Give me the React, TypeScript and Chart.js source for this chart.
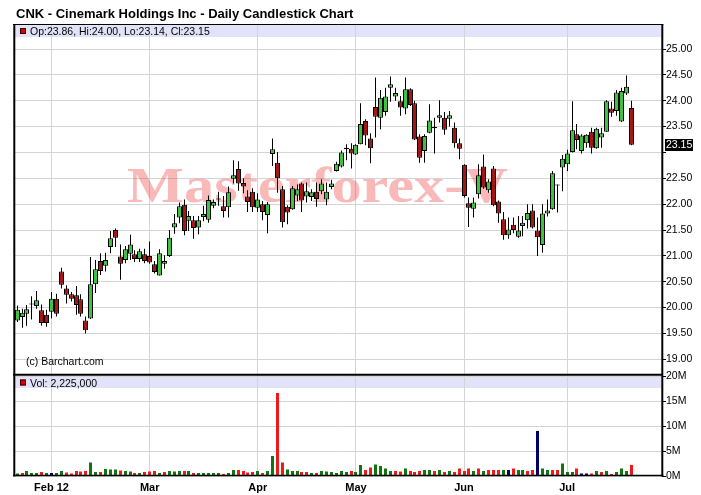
import React, { useEffect, useRef } from "react";
import { Chart, registerables } from "chart.js";

Chart.register(...registerables);

const TITLE = "CNK - Cinemark Holdings Inc - Daily Candlestick Chart";
const COPYRIGHT = "(c) Barchart.com";
const WATERMARK = "Masterforex-V";

// trading days (2012)
const janDays = [23, 24, 25, 26, 27, 30, 31];
const febDays = [1, 2, 3, 6, 7, 8, 9, 10, 13, 14, 15, 16, 17, 21, 22, 23, 24, 27, 28, 29];
const marDays = [1, 2, 5, 6, 7, 8, 9, 12, 13, 14, 15, 16, 19, 20, 21, 22, 23, 26, 27, 28, 29, 30];
const aprDays = [2, 3, 4, 5, 9, 10, 11, 12, 13, 16, 17, 18, 19, 20, 23, 24, 25, 26, 27, 30];
const mayDays = [1, 2, 3, 4, 7, 8, 9, 10, 11, 14, 15, 16, 17, 18, 21, 22, 23, 24, 25, 29, 30, 31];
const junDays = [1, 4, 5, 6, 7, 8, 11, 12, 13, 14, 15, 18, 19, 20, 21, 22, 25, 26, 27, 28, 29];
const julDays = [2, 3, 5, 6, 9, 10, 11, 12, 13, 16, 17, 18, 19, 20];

const dates: string[] = [
  ...janDays.map((d) => `2012-01-${d}`),
  ...febDays.map((d) => `2012-02-${d}`),
  ...marDays.map((d) => `2012-03-${d}`),
  ...aprDays.map((d) => `2012-04-${d}`),
  ...mayDays.map((d) => `2012-05-${d}`),
  ...junDays.map((d) => `2012-06-${d}`),
  ...julDays.map((d) => `2012-07-${d}`),
];

const monthLabels = ["Feb 12", "Mar", "Apr", "May", "Jun", "Jul"];

const opens = [
  19.75, 19.82, 19.88, 20.06, 20.03, 19.95, 19.86, 19.92, 20.17, 20.70,
  20.37, 20.26, 20.24, 20.16, 19.75, 19.79, 20.45, 20.90, 20.81, 21.17,
  21.50, 20.99, 20.92, 21.04, 21.03, 20.94, 21.03, 21.00, 20.84, 20.62,
  20.85, 21.00, 21.55, 21.74, 21.99, 21.68, 21.69, 21.55, 21.75, 21.70,
  21.97, 22.09, 21.96, 21.94, 22.49, 22.68, 22.41, 22.15, 22.24, 21.93,
  22.00, 21.79, 22.97, 22.80, 22.29, 21.95, 21.90, 22.17, 22.40, 22.15,
  22.14, 22.24, 22.25, 22.09, 22.33, 22.64, 22.73, 23.06, 23.07, 22.96,
  23.16, 23.61, 23.27, 23.88, 23.67, 23.78, 24.25, 24.08, 23.99, 23.85,
  24.22, 23.95, 23.31, 23.03, 23.38, 23.47, 23.67, 23.67, 23.65, 23.48,
  23.18, 22.76, 22.02, 21.91, 22.19, 22.73, 22.27, 22.69, 22.05, 21.71,
  21.40, 21.60, 21.37, 21.58, 21.69, 21.88, 21.49, 21.21, 21.82, 21.90,
  22.38, 22.71, 22.77, 23.01, 23.35, 23.03, 23.18, 23.40, 23.08, 23.29,
  23.40, 23.85, 23.80, 23.60, 24.14, 23.86,
];
const highs = [
  20.04, 19.98, 20.05, 20.22, 20.32, 20.06, 19.96, 20.30, 20.27, 20.77,
  20.43, 20.30, 20.42, 20.26, 19.83, 20.98, 20.92, 21.05, 21.06, 21.48,
  21.53, 21.22, 21.19, 21.41, 21.11, 21.14, 21.14, 21.28, 20.90, 21.13,
  21.01, 21.50, 21.81, 22.03, 22.09, 21.87, 21.77, 21.77, 21.97, 22.17,
  22.09, 22.24, 22.16, 22.34, 22.85, 22.83, 22.50, 22.27, 22.31, 22.21,
  22.06, 22.04, 23.27, 23.01, 22.35, 21.98, 22.35, 22.38, 22.42, 22.42,
  22.29, 22.42, 22.48, 22.42, 22.47, 22.82, 23.04, 23.16, 23.18, 23.16,
  23.95, 23.64, 23.37, 24.45, 24.21, 24.25, 24.47, 24.25, 24.09, 24.45,
  24.24, 24.00, 23.35, 23.35, 23.93, 23.67, 24.01, 23.78, 23.80, 23.58,
  23.27, 22.77, 22.13, 22.13, 22.77, 22.96, 22.48, 22.74, 22.07, 21.85,
  21.74, 21.74, 21.77, 21.77, 22.00, 22.00, 21.74, 22.00, 22.09, 22.64,
  22.38, 22.95, 23.05, 23.99, 23.55, 23.35, 23.35, 23.48, 23.48, 23.48,
  24.01, 23.98, 24.21, 24.25, 24.49, 24.00,
];
const lows = [
  19.72, 19.61, 19.65, 19.77, 19.98, 19.65, 19.63, 19.79, 19.83, 20.37,
  20.08, 20.12, 19.86, 19.83, 19.50, 19.78, 20.28, 20.63, 20.70, 21.05,
  21.17, 20.54, 20.86, 20.92, 20.88, 20.88, 20.86, 20.85, 20.66, 20.62,
  20.75, 20.98, 21.43, 21.63, 21.40, 21.48, 21.33, 21.42, 21.67, 21.64,
  21.92, 21.97, 21.74, 21.74, 22.40, 22.26, 22.21, 21.85, 21.85, 21.85,
  21.69, 21.44, 22.74, 22.22, 21.55, 21.61, 21.89, 22.06, 21.85, 22.03,
  22.06, 21.95, 22.19, 21.98, 22.29, 22.63, 22.71, 22.85, 22.69, 22.95,
  23.16, 23.14, 22.79, 23.29, 23.45, 23.71, 23.98, 24.00, 23.71, 23.74,
  23.90, 23.24, 22.80, 22.80, 23.37, 22.98, 23.58, 23.34, 23.50, 23.09,
  22.87, 22.13, 21.56, 21.74, 22.11, 22.30, 22.22, 21.96, 21.64, 21.31,
  21.33, 21.44, 21.35, 21.38, 21.53, 21.53, 21.00, 21.06, 21.76, 21.89,
  21.84, 22.25, 22.64, 23.00, 23.06, 22.98, 23.09, 22.98, 23.07, 23.09,
  23.40, 23.69, 23.71, 23.59, 24.11, 23.14,
];
const closes = [
  19.96, 19.90, 19.97, 20.08, 20.14, 19.70, 19.70, 20.17, 19.88, 20.44,
  20.25, 20.17, 20.05, 19.88, 19.56, 20.45, 20.74, 20.71, 20.92, 21.34,
  21.35, 20.85, 21.13, 21.22, 20.94, 21.09, 20.90, 20.87, 20.69, 21.05,
  20.90, 21.35, 21.63, 21.96, 21.48, 21.77, 21.54, 21.69, 21.81, 22.08,
  22.04, 22.11, 21.87, 22.23, 22.56, 22.40, 22.34, 22.04, 21.94, 22.09,
  21.85, 22.00, 23.06, 22.50, 21.65, 21.84, 22.31, 22.29, 22.07, 22.25,
  22.23, 22.10, 22.40, 22.24, 22.40, 22.78, 23.00, 23.09, 22.98, 23.15,
  23.55, 23.33, 23.08, 23.69, 24.06, 24.08, 24.32, 24.15, 23.87, 24.22,
  23.92, 23.25, 22.90, 23.32, 23.62, 23.49, 23.72, 23.44, 23.72, 23.18,
  23.07, 22.16, 21.93, 22.03, 22.56, 22.32, 22.44, 21.98, 21.82, 21.40,
  21.51, 21.50, 21.49, 21.64, 21.83, 21.55, 21.36, 21.82, 21.88, 22.60,
  22.36, 22.88, 22.98, 23.43, 23.24, 23.33, 23.34, 23.09, 23.46, 23.37,
  23.99, 23.77, 24.16, 24.19, 24.27, 23.15,
];

// volume in millions of shares
const volumes = [
  0.5, 0.6, 1.0, 0.6, 0.6, 0.8, 0.6, 0.6, 0.6, 1.0,
  0.7, 0.5, 1.0, 0.9, 1.0, 2.7, 0.8, 0.8, 1.4, 1.3,
  1.3, 1.1, 1.0, 0.9, 0.6, 0.6, 0.8, 0.9, 1.0, 0.6,
  0.8, 1.0, 0.9, 1.0, 1.0, 1.0, 0.6, 0.6, 0.6, 0.6,
  0.6, 0.6, 0.4, 0.6, 1.2, 1.2, 1.0, 0.7, 0.8, 1.0,
  0.6, 1.0, 4.0, 16.6, 2.7, 1.3, 1.0, 1.0, 0.8, 0.8,
  0.6, 0.6, 1.0, 0.9, 0.8, 0.6, 1.0, 0.8, 1.0, 0.8,
  2.2, 1.2, 1.7, 2.3, 2.0, 1.5, 1.0, 1.0, 0.9, 1.5,
  1.0, 0.8, 1.0, 1.2, 1.2, 1.0, 1.2, 0.8, 1.0, 0.8,
  1.5, 1.0, 1.5, 1.0, 1.5, 1.0, 1.2, 1.2, 1.2, 1.2,
  1.2, 1.5, 1.2, 1.2, 1.0, 1.2, 9.0, 1.5, 1.2, 1.2,
  1.2, 2.5, 0.8, 0.8, 1.5, 0.5, 0.5, 0.5, 1.0, 0.8,
  1.0, 0.4, 0.8, 1.5, 1.0, 2.225,
];
// g = up, r = down, b = other
const volumeTone = [
  "g", "r", "g", "g", "g", "r", "g", "b", "g", "g",
  "r", "r", "r", "r", "r", "g", "g", "r", "g", "g",
  "g", "r", "g", "g", "r", "g", "r", "r", "r", "g",
  "r", "g", "g", "g", "r", "g", "r", "g", "g", "g",
  "g", "g", "r", "g", "g", "r", "r", "r", "r", "g",
  "r", "g", "g", "r", "r", "g", "g", "g", "r", "r",
  "g", "r", "g", "g", "g", "g", "g", "g", "r", "g",
  "g", "r", "r", "g", "g", "g", "g", "r", "r", "g",
  "r", "r", "r", "g", "g", "r", "g", "r", "g", "r",
  "r", "r", "r", "g", "r", "g", "r", "r", "r", "g",
  "b", "r", "g", "g", "r", "r", "b", "g", "g", "r",
  "r", "g", "g", "g", "r", "b", "b", "r", "g", "r",
  "g", "r", "g", "g", "g", "r",
];

const FONT = "'Liberation Sans', Arial, Helvetica, sans-serif";
const GRID = "#d4d4d4";
const BAND = "#e2e2f8";
const UP = "#3fc23f";
const DOWN = "#a81515";
const VOL_UP = "#10740f";
const VOL_DOWN = "#ee1a1a";
const VOL_OTHER = "#000066";

const last = closes.length - 1;
const monthStarts = dates
  .map((d, i) => (i > 0 && d.slice(0, 7) !== dates[i - 1].slice(0, 7) ? i : -1))
  .filter((i) => i >= 0);

const overlayPlugin = {
  id: "overlay",
  beforeDraw(chart: any) {
    const { ctx, chartArea: a } = chart;
    const yv = chart.scales.yv;
    ctx.save();
    ctx.fillStyle = "#ffffff";
    ctx.fillRect(0, 0, chart.width, chart.height);
    ctx.fillStyle = BAND;
    ctx.fillRect(a.left, a.top + 1, a.right - a.left - 1, 12);
    ctx.fillRect(a.left, yv.top + 3, a.right - a.left - 1, 11);
    ctx.restore();
  },
  afterDatasetsUpdate(chart: any) {
    chart.data.datasets.forEach((_: any, di: number) => {
      chart.getDatasetMeta(di).data.forEach((el: any) => {
        el.x = Math.floor(el.x) + 0.5;
      });
    });
  },
  beforeDatasetsDraw(chart: any) {
    const { ctx } = chart;
    ctx.save();
    ctx.font = `bold 51px 'Liberation Serif', 'DejaVu Serif', serif`;
    ctx.fillStyle = "rgba(240, 60, 60, 0.36)";
    ctx.textBaseline = "alphabetic";
    ctx.textAlign = "left";
    const w = ctx.measureText(WATERMARK).width;
    const sx = 381 / w;
    ctx.translate(127, 202);
    ctx.scale(sx, 1);
    ctx.fillText(WATERMARK, 0, 0);
    ctx.restore();
  },
  afterDraw(chart: any) {
    const { ctx, chartArea: a } = chart;
    const y = chart.scales.y;
    const yv = chart.scales.yv;
    ctx.save();
    // frame
    ctx.strokeStyle = "#000";
    ctx.lineWidth = 1;
    ctx.beginPath();
    ctx.moveTo(13, 24.5);
    ctx.lineTo(663.3, 24.5);
    ctx.stroke();
    ctx.lineWidth = 2;
    ctx.beginPath();
    ctx.moveTo(14.3, 24);
    ctx.lineTo(14.3, 476.5);
    ctx.moveTo(662.3, 24);
    ctx.lineTo(662.3, 476.5);
    ctx.moveTo(13, yv.top + 0.8);
    ctx.lineTo(663.3, yv.top + 0.8);
    ctx.stroke();
    ctx.lineWidth = 1.5;
    ctx.beginPath();
    ctx.moveTo(13, a.bottom - 0.5);
    ctx.lineTo(663.3, a.bottom - 0.5);
    ctx.stroke();

    // title
    ctx.fillStyle = "#000";
    ctx.textBaseline = "alphabetic";
    ctx.textAlign = "left";
    ctx.font = `bold 13px ${FONT}`;
    ctx.fillText(TITLE, 16, 18);

    // legends
    ctx.font = `10.5px ${FONT}`;
    const sq = (x: number, yy: number) => {
      ctx.fillStyle = "#dd0000";
      ctx.fillRect(x, yy, 6, 6);
      ctx.strokeStyle = "#330000";
      ctx.lineWidth = 1;
      ctx.strokeRect(x + 0.5, yy + 0.5, 5, 5);
    };
    sq(20, a.top + 4);
    ctx.fillStyle = "#000";
    ctx.fillText(
      `Op:${opens[last].toFixed(2)}, Hi:${highs[last].toFixed(2)}, Lo:${lows[last].toFixed(2)}, Cl:${closes[last].toFixed(2)}`,
      30,
      a.top + 11
    );
    sq(20, yv.top + 5.5);
    ctx.fillStyle = "#000";
    ctx.fillText(
      `Vol: ${Math.round(volumes[last] * 1e6).toLocaleString("en-US")}`,
      30,
      yv.top + 12.5
    );

    ctx.fillText(COPYRIGHT, 26, 365);

    // last price marker
    const py = y.getPixelForValue(closes[last]);
    ctx.fillStyle = "#000";
    ctx.fillRect(665, Math.round(py) - 6, 28, 12);
    ctx.fillStyle = "#fff";
    ctx.textBaseline = "middle";
    ctx.fillText(closes[last].toFixed(2), 666, Math.round(py));
    ctx.restore();
  },
};

export default function App() {
  const ref = useRef<HTMLCanvasElement>(null);
  useEffect(() => {
    document.body.style.margin = "0";
    const canvas = ref.current!;
    const bodies = closes.map((c, i) => ({ x: i, y: [opens[i], c] }));
    const wicks = closes.map((_, i) => ({ x: i, y: [lows[i], highs[i]] }));
    const vols = volumes.map((v, i) => ({ x: i, y: v }));
    const bodyColors = closes.map((c, i) => (c >= opens[i] ? UP : DOWN));
    const volColors = volumeTone.map((t) => (t === "g" ? VOL_UP : t === "r" ? VOL_DOWN : VOL_OTHER));

    const chart = new Chart(canvas, {
      type: "bar",
      data: {
        datasets: [
          {
            label: "body",
            data: bodies as any,
            xAxisID: "x",
            yAxisID: "y",
            backgroundColor: bodyColors,
            borderColor: "#000",
            borderWidth: 1,
            borderSkipped: false,
            barThickness: 5,
            grouped: false,
            inflateAmount: 0,
            order: 0,
          },
          {
            label: "wick",
            data: wicks as any,
            xAxisID: "x",
            yAxisID: "y",
            backgroundColor: "#000",
            borderWidth: 0,
            barThickness: 1,
            grouped: false,
            inflateAmount: 0,
            order: 1,
          },
          {
            label: "volume",
            data: vols as any,
            xAxisID: "x",
            yAxisID: "yv",
            backgroundColor: volColors,
            borderWidth: 0,
            barThickness: 3,
            grouped: false,
            inflateAmount: 0,
            order: 2,
          },
        ] as any,
      },
      options: {
        responsive: false,
        maintainAspectRatio: false,
        animation: false,
        devicePixelRatio: 1,
        events: [],
        layout: { padding: { left: 15, top: 24, right: 0, bottom: 0 } },
        plugins: {
          legend: { display: false },
          tooltip: { enabled: false },
          title: { display: false },
        },
        scales: {
          x: {
            type: "linear",
            min: -0.428,
            max: 131.31,
            offset: false,
            grid: { color: GRID, offset: false, drawTicks: false },
            border: { display: false },
            afterBuildTicks: (s: any) => {
              s.ticks = monthStarts.map((v) => ({ value: v }));
            },
            ticks: {
              autoSkip: false,
              maxRotation: 0,
              padding: 5,
              color: "#000",
              font: { family: FONT, size: 11, weight: "bold" },
              callback: (_v: any, idx: number) => monthLabels[idx],
            },
            afterFit: (s: any) => {
              s.height = 19;
            },
          },
          y: {
            type: "linear",
            position: "right",
            stack: "panels",
            stackWeight: 350,
            min: 18.716,
            max: 25.484,
            grid: { color: GRID, tickColor: "#000", tickLength: 4 },
            border: { display: false },
            ticks: {
              stepSize: 0.5,
              maxTicksLimit: 30,
              autoSkip: false,
              includeBounds: false,
              padding: 0,
              color: "#000",
              font: { family: FONT, size: 10.5 },
              callback: (v: any) =>
                Math.abs(v - Math.round(closes[last] * 2) / 2) < 1e-6 ? "" : Number(v).toFixed(2),
            },
            afterFit: (s: any) => {
              s.width = 39;
            },
          },
          yv: {
            type: "linear",
            position: "right",
            stack: "panels",
            stackWeight: 102,
            min: 0,
            max: 20.4,
            grid: { color: GRID, tickColor: "#000", tickLength: 4 },
            border: { display: false },
            ticks: {
              stepSize: 5,
              maxTicksLimit: 30,
              autoSkip: false,
              includeBounds: false,
              padding: 0,
              color: "#000",
              font: { family: FONT, size: 10.5 },
              callback: (v: any) => `${v}M`,
            },
            afterFit: (s: any) => {
              s.width = 39;
            },
          },
        },
      } as any,
      plugins: [overlayPlugin],
    });
    return () => chart.destroy();
  }, []);
  return (
    <div style={{ width: 701, height: 495, position: "relative" }}>
      <canvas ref={ref} width={701} height={495} style={{ display: "block", width: 701, height: 495 }} />
    </div>
  );
}
